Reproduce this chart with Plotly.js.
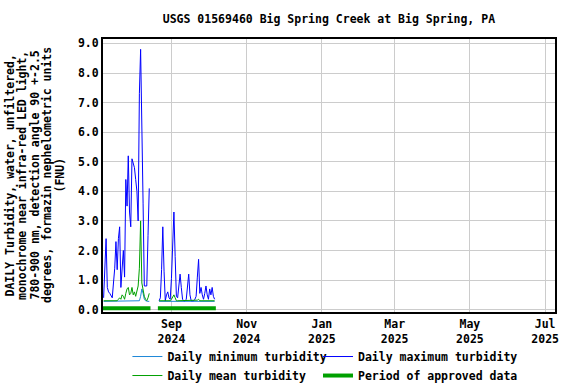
<!DOCTYPE html>
<html>
<head>
<meta charset="utf-8">
<script src="https://cdn.plot.ly/plotly-3.0.1.min.js"></script>
<style>html,body{margin:0;padding:0;background:#fff;}#chart{width:576px;height:384px;}</style>
</head>
<body>
<div id="chart"></div>
<script>
// ---- data ----
const seg1Start = '2024-07-08';
const seg1Max  = [0.4,1.35,2.4,0.75,0.6,0.55,0.45,0.4,0.9,1.4,2.3,1.35,2.4,2.8,0.75,1.5,2.0,1.1,4.4,3.5,5.2,3.3,2.8,5.1,4.9,4.8,4.4,4.0,3.0,7.3,8.8,5.3,3.6,0.8,0.8,0.8,2.5,4.1];
const seg1Mean = [0.3,0.3,0.3,0.3,0.3,0.3,0.3,0.3,0.3,0.3,0.3,0.3,0.35,0.4,0.35,0.5,0.45,0.35,0.55,0.7,0.75,0.5,0.55,0.75,0.5,0.6,0.45,0.7,0.8,1.4,3.0,0.9,0.6,0.45,0.35,0.3,0.4,0.55];
const seg1Min  = [0.28,0.28,0.28,0.28,0.28,0.28,0.28,0.28,0.28,0.28,0.28,0.28,0.28,0.28,0.28,0.28,0.28,0.28,0.28,0.28,0.28,0.28,0.28,0.28,0.28,0.28,0.28,0.28,0.28,0.3,0.45,0.7,0.55,0.35,0.3,0.28,0.28,0.28];

const seg2Start = '2024-08-22';
const seg2Max  = [0.3,0.4,1.35,2.8,1.3,0.3,0.5,0.6,0.4,0.35,1.05,2.55,3.3,1.8,0.45,0.4,0.85,1.2,0.75,0.35,0.3,0.3,0.35,0.8,1.2,0.5,0.3,0.3,0.3,0.35,0.45,1.1,1.7,0.55,0.75,0.5,0.35,0.55,0.8,0.5,0.35,0.7,0.5,0.75,0.45,0.35];
const seg2Mean = [0.3,0.3,0.3,0.32,0.3,0.3,0.3,0.3,0.3,0.3,0.35,0.45,0.5,0.4,0.3,0.3,0.3,0.32,0.3,0.3,0.3,0.3,0.3,0.3,0.32,0.3,0.3,0.3,0.3,0.3,0.3,0.32,0.35,0.3,0.3,0.3,0.3,0.3,0.3,0.3,0.3,0.3,0.3,0.3,0.3,0.3];
const seg2Min  = [0.28,0.28,0.28,0.28,0.28,0.28,0.28,0.28,0.28,0.28,0.28,0.28,0.3,0.28,0.28,0.28,0.28,0.28,0.28,0.28,0.28,0.28,0.28,0.28,0.28,0.28,0.28,0.28,0.28,0.28,0.28,0.28,0.28,0.28,0.28,0.28,0.28,0.28,0.28,0.28,0.28,0.28,0.28,0.28,0.28,0.28];

const approvedStarts = ['2024-07-07', '2024-08-21'];
const approvedEnds   = ['2024-08-15', '2024-10-07'];
const approvedLevel  = 0.05;

const titleText = 'USGS 01569460 Big Spring Creek at Big Spring, PA';
const yTitleLines = ['DAILY Turbidity, water, unfiltered,', 'monochrome near infra-red LED light,', '780-900 nm, detection angle 90 +-2.5', 'degrees, formazin nephelometric units', '(FNU)'];
const legendNames = ['Daily minimum turbidity', 'Daily maximum turbidity', 'Daily mean turbidity', 'Period of approved data'];

// ---- helpers ----
function dates(start, n) {
  const out = [];
  const d0 = new Date(start + 'T00:00:00Z');
  for (let i = 0; i < n; i++) {
    const d = new Date(d0.getTime() + i * 86400000);
    out.push(d.toISOString().slice(0, 10));
  }
  return out;
}
function joinSeg(a, b) { return a.concat([null], b); }

const x1 = dates(seg1Start, seg1Max.length);
const x2 = dates(seg2Start, seg2Max.length);
const xAll = x1.concat(['2024-08-18'], x2);

const FONT = 'DejaVu Sans Mono';
const fnt = {family: FONT, size: 11.5, color: '#000', weight: 700};

const apprX = [], apprY = [];
approvedStarts.forEach((s, i) => { apprX.push(s, approvedEnds[i], null); apprY.push(approvedLevel, approvedLevel, null); });

const traces = [
  {x: xAll, y: joinSeg(seg1Min, seg2Min), name: legendNames[0], legend: 'legend', legendrank: 1, mode: 'lines', line: {color: '#1e88d8', width: 1}, connectgaps: false},
  {x: xAll, y: joinSeg(seg1Max, seg2Max), name: legendNames[1], legend: 'legend2', legendrank: 1, mode: 'lines', line: {color: '#0000ff', width: 1}, connectgaps: false},
  {x: xAll, y: joinSeg(seg1Mean, seg2Mean), name: legendNames[2], legend: 'legend', legendrank: 2, mode: 'lines', line: {color: '#00a000', width: 1}, connectgaps: false},
  {x: apprX, y: apprY, name: legendNames[3], legend: 'legend2', legendrank: 2, mode: 'lines', line: {color: '#00a000', width: 4}, connectgaps: false}
];

const legendCommon = {orientation: 'v', xanchor: 'left', yanchor: 'top', font: fnt, tracegroupgap: 0,
                      bgcolor: 'rgba(0,0,0,0)', borderwidth: 0};

// y-axis title, one rotated line per annotation (tight line spacing as in the reference)
const plotL = 103, plotW = 452;
const titleLineX = [9, 21.5, 34, 46.5, 59];
const annotations = yTitleLines.map((t, i) => ({
  text: t, xref: 'paper', yref: 'paper', x: (titleLineX[i] - plotL) / plotW, y: 0.5,
  xanchor: 'center', yanchor: 'middle', textangle: -90, showarrow: false, font: fnt
}));

const layout = {
  width: 576, height: 384,
  margin: {l: 103, r: 21, t: 39, b: 72, autoexpand: false},
  paper_bgcolor: '#fff', plot_bgcolor: '#fff',
  font: fnt,
  title: {text: titleText, font: fnt, x: 0.571, xanchor: 'center', y: 0.95, yanchor: 'middle'},
  showlegend: true,
  legend: Object.assign({}, legendCommon, {x: 0.054, y: -0.11}),
  legend2: Object.assign({}, legendCommon, {x: 0.4757, y: -0.11}),
  annotations: annotations,
  xaxis: {
    type: 'date', range: ['2024-07-07 12:00', '2025-07-09'],
    tick0: '2024-09-01', dtick: 'M2', tickformat: '%b<br>%Y',
    showgrid: true, gridcolor: '#cccccc', gridwidth: 1,
    showline: true, linecolor: '#000', linewidth: 2, mirror: true,
    ticks: '', tickfont: fnt, zeroline: false
  },
  yaxis: {
    range: [-0.08, 9.15], tick0: 0, dtick: 1, tickformat: '.1f',
    showgrid: true, gridcolor: '#cccccc', gridwidth: 1,
    showline: true, linecolor: '#000', linewidth: 2, mirror: true,
    ticks: '', tickfont: fnt, zeroline: false
  }
};

Plotly.newPlot('chart', traces, layout, {staticPlot: true, displayModeBar: false});
</script>
</body>
</html>
